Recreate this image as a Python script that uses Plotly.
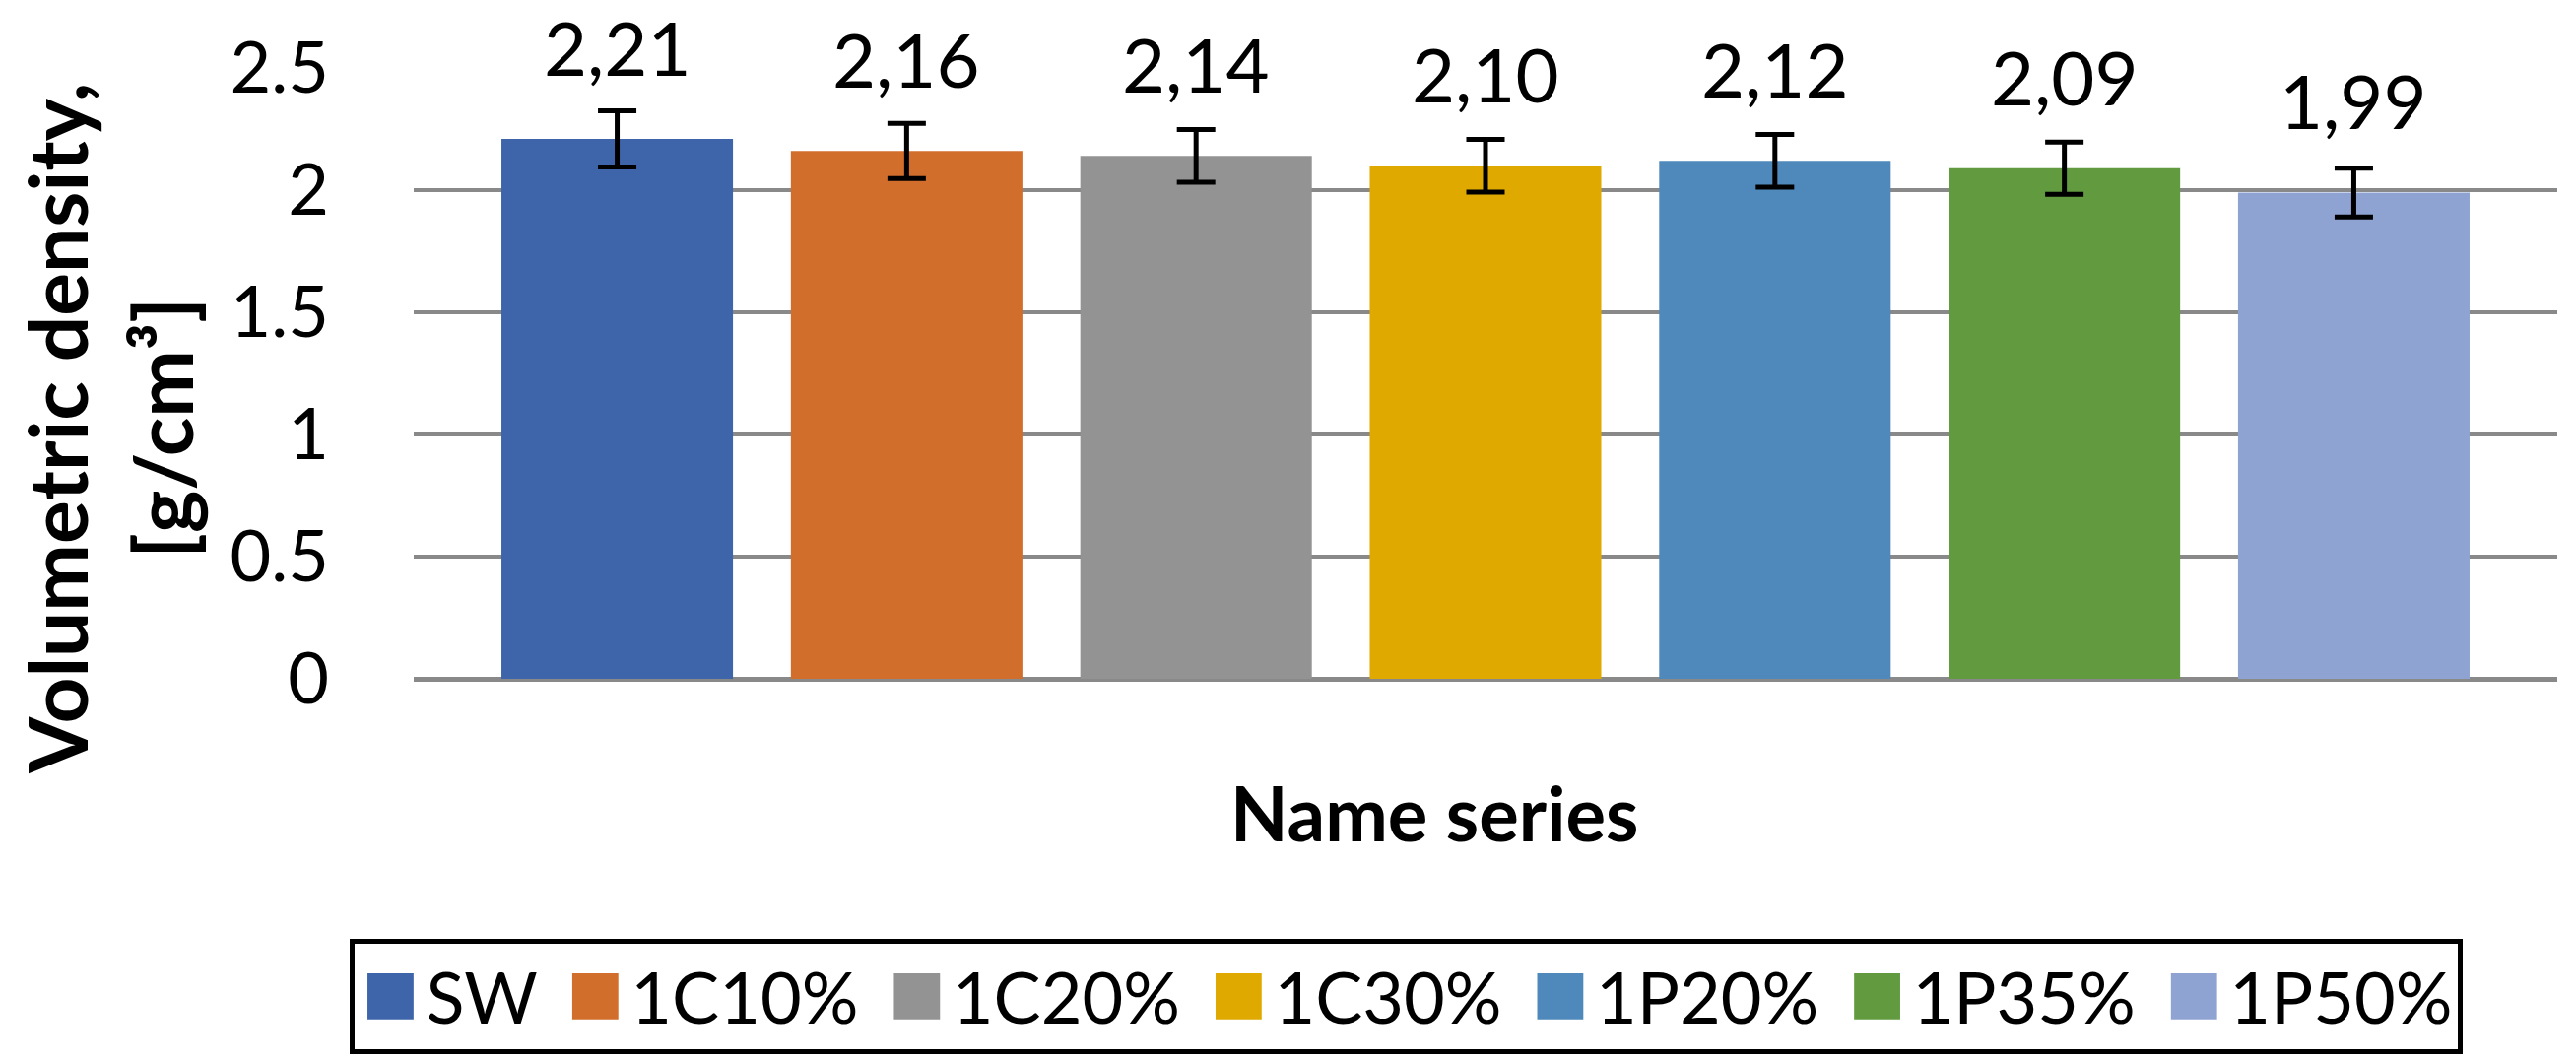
import plotly.graph_objects as go

# 시리즈 이름, 값, 오차
series = ['SW', '1C10%', '1C20%', '1C30%', '1P20%', '1P35%', '1P50%']
density = [2.21, 2.16, 2.14, 2.10, 2.12, 2.09, 1.99]
err = [0.115, 0.113, 0.108, 0.108, 0.108, 0.107, 0.100]
colors = ['#3E64AA', '#D26E2C', '#939393', '#E0A900', '#4F89BB', '#629B3F', '#8FA3D3']

fig = go.Figure()

for i, (name, v, e, c) in enumerate(zip(series, density, err, colors)):
    # 범례 항목 사이 간격용 공백
    pad = '\u00a0' if i < len(series) - 1 else ''
    fig.add_trace(go.Bar(
        x=[name], y=[v], name=name + pad,
        marker=dict(color=c, line=dict(width=0)),
        width=0.8,
        error_y=dict(type='data', array=[e], color='black', thickness=5, width=19.5),
    ))

# 값 라벨 (소수점 쉼표)
for name, v in zip(series, density):
    fig.add_annotation(
        x=name, y=v, text=f'{v:.2f}'.replace('.', ','),
        showarrow=False, yanchor='bottom', yshift=46,
        font=dict(family='Lato', size=76, color='black'),
    )

# 축 제목
fig.add_annotation(
    xref='paper', yref='paper', x=-0.142, y=0.41,
    text='<b>Volumetric density,</b><br><b>[g/cm³]</b>',
    textangle=-90, showarrow=False, xanchor='center', yanchor='middle',
    font=dict(family='Lato', size=82, color='black'),
)
fig.add_annotation(
    xref='paper', yref='paper', x=0.476, y=-0.219,
    text='<b>Name series</b>', showarrow=False, xanchor='center', yanchor='middle',
    font=dict(family='Lato', size=76, color='black'),
)

fig.update_layout(
    width=2615, height=1080,
    margin=dict(l=412, r=27, t=61, b=399, autoexpand=False),
    plot_bgcolor='white', paper_bgcolor='white',
    barmode='overlay',
    font=dict(family='Lato', color='black'),
    showlegend=True,
    legend=dict(
        orientation='h', xref='container', x=0.543, y=-0.4258,
        xanchor='center', yanchor='top',
        font=dict(family='Lato', size=72, color='black'),
        bordercolor='black', borderwidth=5, bgcolor='white',
        itemwidth=62,
    ),
    xaxis=dict(
        range=[-0.703, 6.703], showticklabels=False, showgrid=False,
        showline=False, zeroline=False, ticks='',
    ),
    yaxis=dict(
        range=[0, 2.5], dtick=0.5, tick0=0,
        showgrid=True, gridcolor='#898989', gridwidth=4,
        zeroline=True, zerolinecolor='#898989', zerolinewidth=5,
        showline=False, ticks='',
        tickfont=dict(family='Lato', size=72, color='black'),
        ticklabelstandoff=85,
    ),
)

# 범례 색상 사각형 크게 (기존 위치 유지)
js = ("document.querySelectorAll('.legend .legendpoints path').forEach(function(p){"
      "p.setAttribute('transform',(p.getAttribute('transform')||'')+' scale(3.9)');});")
fig.write_html('out.html', post_script=js)
